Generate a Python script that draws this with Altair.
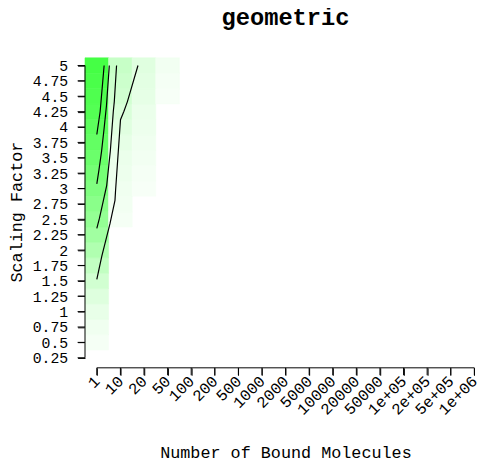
import json
import altair as alt
import pandas as pd

# ---- data ----
x_labels = ["1", "10", "20", "50", "100", "200", "500", "1000", "2000", "5000",
            "10000", "20000", "50000", "1e+05", "2e+05", "5e+05", "1e+06"]
y_ticks = [0.25, 0.5, 0.75, 1.0, 1.25, 1.5, 1.75, 2.0, 2.25, 2.5,
           2.75, 3.0, 3.25, 3.5, 3.75, 4.0, 4.25, 4.5, 4.75, 5.0]

# green intensity per cell, bottom row (0.25) to top row (5); other columns are 0
col_1 = [0.00, 0.04, 0.06, 0.09, 0.13, 0.18, 0.24, 0.31, 0.37, 0.42,
         0.46, 0.50, 0.54, 0.58, 0.61, 0.64, 0.67, 0.69, 0.71, 0.73]
col_10 = [0, 0, 0, 0, 0, 0, 0, 0, 0, 0.04,
          0.05, 0.06, 0.07, 0.08, 0.10, 0.12, 0.15, 0.18, 0.20, 0.22]
col_20 = [0, 0, 0, 0, 0, 0, 0, 0, 0, 0,
          0, 0.03, 0.04, 0.05, 0.06, 0.07, 0.08, 0.10, 0.11, 0.12]
col_50 = [0, 0, 0, 0, 0, 0, 0, 0, 0, 0,
          0, 0, 0, 0, 0, 0, 0, 0.03, 0.04, 0.05]

# contour lines (x in column index units, y in scaling factor)
cont_a_x = [0.0, 0.142, 0.31]
cont_a_y = [3.878, 4.252, 5.0]
cont_b_x = [0.0, 0.09, 0.20, 0.31, 0.41, 0.53]
cont_b_y = [3.076, 3.30, 3.60, 3.98, 4.35, 5.0]
cont_c_x = [0.0, 0.113, 0.28, 0.418, 0.573, 0.699, 0.741, 0.837]
cont_c_y = [2.353, 2.518, 2.808, 3.049, 3.61, 4.252, 4.413, 5.0]
cont_d_x = [0.0, 0.21, 0.561, 0.77, 0.795, 1.004, 1.146, 1.297, 1.745]
cont_d_y = [1.524, 1.898, 2.434, 2.808, 2.968, 4.119, 4.252, 4.413, 5.0]

# ---- tables ----
rows = []
for ci, col in enumerate([col_1, col_10, col_20, col_50]):
    for yi, z in enumerate(col):
        if z > 0:
            rows.append({"xi": ci, "yv": y_ticks[yi], "z": z})
heat_df = pd.DataFrame(rows)

crow = []
for name, xs, ys in [("a", cont_a_x, cont_a_y), ("b", cont_b_x, cont_b_y),
                     ("c", cont_c_x, cont_c_y), ("d", cont_d_x, cont_d_y)]:
    for k, (xv, yv) in enumerate(zip(xs, ys)):
        crow.append({"cid": name, "k": k, "x0": xv, "y0": yv})
cont_df = pd.DataFrame(crow)

xtick_df = pd.DataFrame({"x0": [float(i) for i in range(len(x_labels))]})
ytick_df = pd.DataFrame({"y0": y_ticks})

FONT = "Liberation Mono"
n = len(x_labels)
W = 399.1
H = 311.6
OFF = 2.4
TICK = 7.5
x_lo, x_hi = -0.5, n - 0.8
y_lo, y_hi = y_ticks[0] - 0.125, y_ticks[-1] + 0.125
px_x = W / (x_hi - x_lo)     # pixels per x unit
px_y = H / (y_hi - y_lo)     # pixels per y unit

xscale = alt.Scale(domain=[x_lo, x_hi], nice=False, zero=False)
yscale = alt.Scale(domain=[y_lo, y_hi], nice=False, zero=False)
cscale = alt.Scale(domain=[0, 1], range=["#ffffff", "#00ff00"], interpolate="rgb")

label_expr = json.dumps(x_labels) + "[datum.value]"

x_axis = alt.Axis(values=list(range(n)), tickCount=n, labelExpr=label_expr,
                  title="Number of Bound Molecules",
                  offset=OFF, domain=False, grid=False, ticks=True,
                  tickSize=TICK, tickColor="black", tickWidth=1,
                  labelAngle=315, labelAlign="right", labelBaseline="middle",
                  labelPadding=3, labelFlush=False, labelOverlap=False,
                  labelSeparation=0,
                  labelFont=FONT, labelFontSize=16, labelColor="black",
                  titleFont=FONT, titleFontSize=17, titleFontWeight="normal",
                  titleColor="black", titleX=203, titleY=91,
                  titleBaseline="alphabetic")
y_axis = alt.Axis(values=y_ticks, tickCount=len(y_ticks), labelExpr="'' + datum.value",
                  title="Scaling Factor", domain=False, grid=False, ticks=True,
                  tickSize=TICK, tickColor="black", tickWidth=1,
                  labelPadding=10, labelFlush=False, labelOverlap=False,
                  labelSeparation=0,
                  labelFont=FONT, labelFontSize=15, labelColor="black",
                  titleFont=FONT, titleFontSize=17, titleFontWeight="normal",
                  titleColor="black", titleX=-64, titleBaseline="alphabetic")

heat = alt.Chart(heat_df).mark_rect(strokeWidth=0.6).transform_calculate(
    x0="datum.xi - 0.5", x1="datum.xi + 0.5",
    y0="datum.yv - 0.125", y1="datum.yv + 0.125",
).encode(
    x=alt.X("x0:Q", scale=xscale, axis=x_axis),
    x2="x1:Q",
    y=alt.Y("y0:Q", scale=yscale, axis=y_axis),
    y2="y1:Q",
    color=alt.Color("z:Q", scale=cscale, legend=None),
    stroke=alt.Stroke("z:Q", scale=cscale, legend=None),
)

contours = alt.Chart(cont_df).mark_line(color="black", strokeWidth=1.2).encode(
    x=alt.X("x0:Q", scale=xscale, axis=x_axis),
    y=alt.Y("y0:Q", scale=yscale, axis=y_axis),
    detail="cid:N",
    order="k:Q",
)

one = pd.DataFrame({"a": [0]})
y_axis_line = alt.Chart(one).mark_rule(color="black", strokeWidth=1).encode(
    x=alt.value(0), y=alt.datum(y_ticks[0]), y2=alt.datum(y_ticks[-1]))
x_axis_line = alt.Chart(one).mark_rule(color="black", strokeWidth=1).encode(
    x=alt.datum(0), x2=alt.datum(n - 1), y=alt.value(H + OFF))

# tick marks drawn as rules, their ends expressed in scale units
y_tick_marks = alt.Chart(ytick_df).mark_rule(color="black", strokeWidth=1).encode(
    y=alt.Y("y0:Q", scale=yscale, axis=y_axis),
    x=alt.datum(x_lo - TICK / px_x), x2=alt.datum(x_lo))
x_tick_marks = alt.Chart(xtick_df).mark_rule(color="black", strokeWidth=1).encode(
    x=alt.X("x0:Q", scale=xscale, axis=x_axis),
    y=alt.datum(y_lo - OFF / px_y), y2=alt.datum(y_lo - (OFF + TICK) / px_y))

chart = alt.layer(heat, contours, y_axis_line, x_axis_line, y_tick_marks, x_tick_marks).properties(
    width=W, height=H,
    title=alt.TitleParams("geometric", font=FONT, fontSize=24, fontWeight="bold",
                          color="black", anchor="middle", dx=3.5, offset=9,
                          baseline="alphabetic"),
    padding={"left": 78, "top": 47.5, "right": 4, "bottom": 100},
    autosize=alt.AutoSizeParams(type="none"),
    background="white",
).configure_view(stroke=None).configure_axis(
    labelOverlap=False, labelFlush=False, labelSeparation=0
)

chart.save("out.html", embed_options={"renderer": "svg", "actions": False})
